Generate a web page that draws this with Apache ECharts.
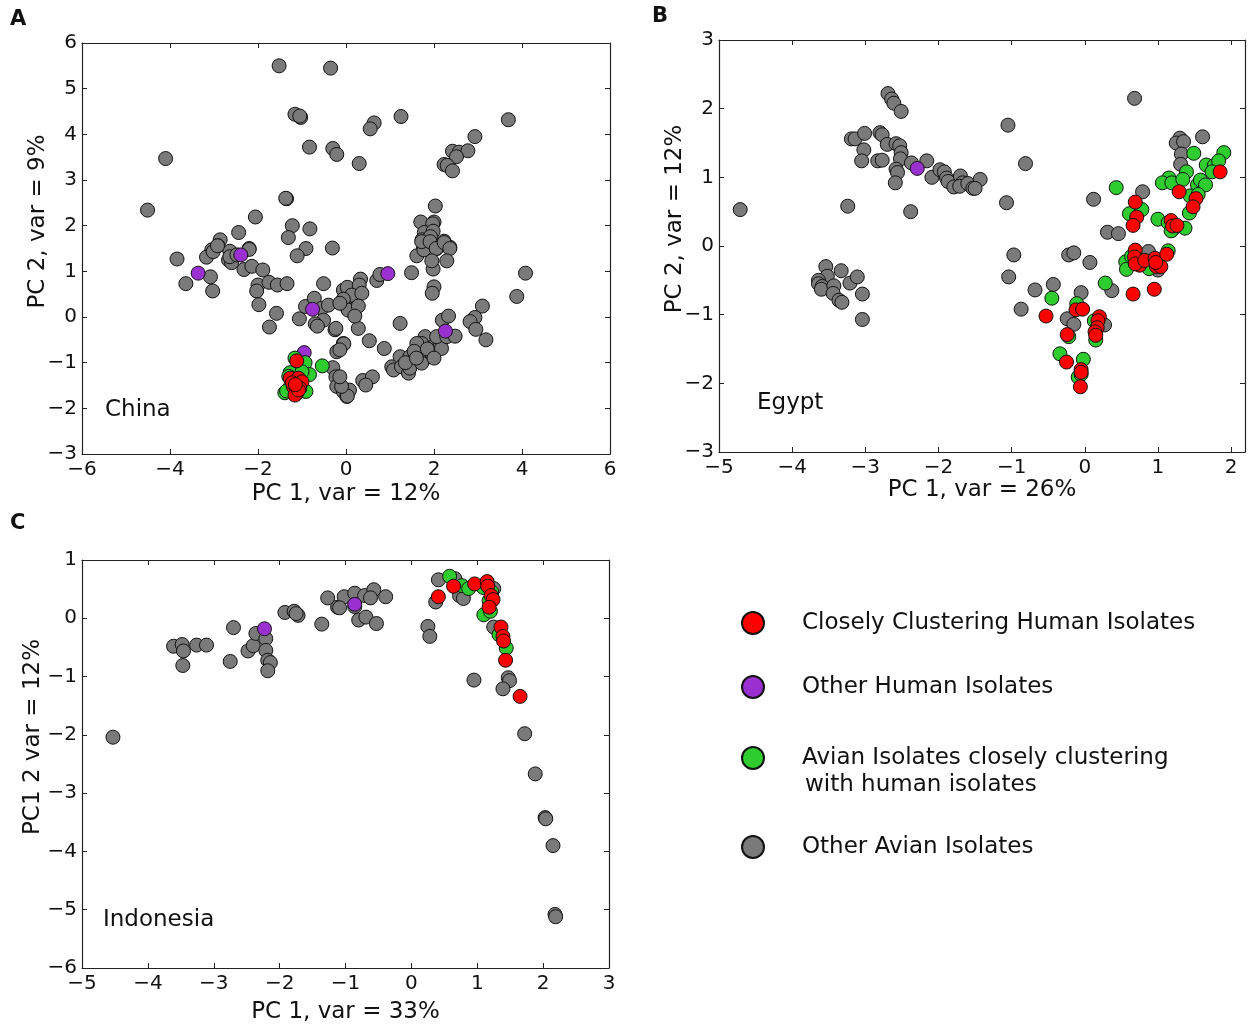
<!DOCTYPE html>
<html><head><meta charset="utf-8">
<script src="https://cdn.jsdelivr.net/npm/echarts@6/dist/echarts.min.js"></script>
<style>html,body{margin:0;padding:0;background:#fff}#c{width:1249px;height:1025px}</style>
</head><body><div id="c"></div>
<script>
// ---------- DATA ----------
const seriesNames = ['Other Avian Isolates', 'Other Human Isolates', 'Avian Isolates closely clustering with human isolates', 'Closely Clustering Human Isolates'];
const panelTitles = ['China', 'Egypt', 'Indonesia'];
const xAxisNames = ['PC 1, var = 12%', 'PC 1, var = 26%', 'PC 1, var = 33%'];
const yAxisNames = ['PC 2, var = 9%', 'PC 2, var = 12%', 'PC1 2 var = 12%'];

// Panel A – China
const chinaOtherAvian = [[-1.52,5.50],[-0.35,5.45],[-1.16,4.44],[-1.03,4.37],[-1.05,4.40],[-0.83,3.72],[-0.30,3.69],[-0.21,3.56],[-4.10,3.47],[-4.51,2.34],[-1.35,2.59],[-1.37,2.60],[-2.06,2.19],[-1.22,2.00],[-0.82,1.93],[-1.31,1.74],[-2.44,1.85],[-2.86,1.69],[-2.91,1.56],[-2.20,1.50],[-0.91,1.50],[-0.31,1.51],[-2.64,1.44],[-3.05,1.47],
[0.64,4.25],[0.55,4.12],[1.25,4.39],[0.30,3.36],[3.69,4.32],[2.93,3.95],[2.42,3.63],[2.57,3.61],[2.77,3.64],[2.51,3.51],[2.23,3.34],[2.30,3.32],[2.42,3.20],
[2.03,2.43],[1.70,2.08],[2.00,2.08],[1.97,2.04],[1.78,1.85],[1.98,1.88],[1.73,1.69],[1.92,1.76],[2.23,1.66],[1.76,1.50],[2.06,1.50],[2.36,1.53],
[-3.84,1.27],[-3.64,0.73],[-3.08,0.88],[-3.03,0.57],[-3.17,1.31],[-3.02,1.43],[-2.92,1.56],[-2.67,1.25],[-2.60,1.19],[-2.64,1.32],[-2.48,1.36],[-2.20,1.48],[-2.32,1.04],[-2.14,1.11],[-1.89,1.03],[-2.00,0.70],[-1.75,0.76],[-1.56,0.70],[-1.34,0.73],[-2.03,0.57],[-1.98,0.27],[-1.74,-0.22],[-1.58,0.08],[-1.11,1.34],[-0.51,0.73],[-1.06,-0.04],[-0.92,0.23],[-0.72,0.41],[-0.55,0.19],[-0.40,0.26],[-0.51,-0.07],[-0.70,-0.15],[-0.65,-0.20],[-0.25,-0.28],[-0.23,-0.25],[-0.06,0.37],[-0.06,0.59],[0.00,0.23],[-0.06,-0.58],[-0.21,-0.76],[-0.30,-1.11],[-0.23,-1.31],[-0.21,-1.52],[-0.06,-1.63],[0.02,-1.74],
[0.70,0.80],[0.77,0.93],[1.49,0.97],[1.98,1.05],[2.00,0.66],[1.96,0.52],[1.61,1.34],[1.77,1.47],[1.72,1.65],[1.91,1.65],[2.05,1.50],[2.23,1.63],[2.36,1.50],[2.29,1.23],[1.95,1.23],[4.08,0.96],[3.88,0.45],[3.10,0.24],[2.93,-0.01],[2.82,-0.10],[2.95,-0.27],[3.18,-0.50],[1.23,-0.14],[0.53,-0.52],[0.87,-0.69],[0.28,-0.25],
[0.33,0.83],[0.03,0.65],[0.30,0.70],[0.13,0.48],[0.36,0.52],[-0.06,0.39],[0.05,0.15],[0.28,0.24],[0.20,0.02],[-0.14,0.30],[-0.05,-0.59],[-0.14,-0.72],
[0.38,-1.39],[0.60,-1.31],[0.45,-1.49],[0.08,-1.60],[0.03,-1.73],[-0.10,-1.52],[-0.14,-1.31],
[1.04,-1.09],[1.08,-1.16],[1.23,-0.87],[1.26,-1.09],[1.42,-1.23],[1.45,-1.12],[1.45,-0.87],[1.64,-0.65],[1.72,-0.80],[1.76,-0.94],[1.72,-1.01],[1.80,-0.43],[1.72,-0.58],[1.61,-0.58],[1.95,-0.80],[1.98,-0.65],[2.14,-0.58],[2.17,-0.69],[2.06,-0.43],[2.29,-0.43],[2.48,-0.42],[2.19,-0.07],[2.33,0.02],[1.55,-0.75],[1.85,-0.70],[2.00,-0.90],[1.35,-1.00],[1.60,-0.90]];
const chinaOtherHuman = [[-3.36,0.96],[-2.39,1.36],[-0.76,0.17],[0.95,0.95],[2.26,-0.31],[-0.95,-0.78]];
const chinaAvianClose = [[-1.16,-0.90],[-0.93,-1.00],[-0.83,-1.26],[-1.27,-1.22],[-1.39,-1.66],[-0.91,-1.63],[-1.26,-1.52],[-0.54,-1.07],[-1.30,-1.30],[-1.00,-1.20],[-1.35,-1.62]];
const chinaHumanClose = [[-1.12,-0.96],[-1.27,-1.34],[-1.08,-1.34],[-1.00,-1.42],[-1.20,-1.52],[-1.05,-1.56],[-1.12,-1.67],[-1.16,-1.71],[-1.08,-1.60],[-1.22,-1.44],[-1.15,-1.48]];

// Panel B – Egypt
const egyptOtherAvian = [[-4.71,0.53],[-3.24,0.58],[-2.38,0.50],[-2.69,2.22],[-2.64,2.14],[-2.61,2.08],[-2.51,1.96],[-3.19,1.56],[-3.14,1.56],[-3.01,1.64],[-3.02,1.40],[-3.05,1.24],[-2.80,1.65],[-2.77,1.62],[-2.70,1.48],[-2.58,1.49],[-2.53,1.46],[-2.51,1.36],[-2.83,1.24],[-2.77,1.25],[-2.52,1.27],[-2.58,1.12],[-2.56,1.07],[-2.59,0.92],[-2.37,1.21],[-2.16,1.24],[-2.09,1.00],[-1.98,1.11],[-1.92,1.08],[-1.89,0.99],[-1.87,0.94],[-1.79,0.86],[-1.70,1.02],[-1.67,0.92],[-1.71,0.87],[-1.60,0.91],[-1.53,0.84],[-1.43,0.97],[-1.50,0.84],[-1.05,1.76],[-0.81,1.20],[-1.07,0.63],[0.68,2.15],[0.12,0.68],[0.31,0.20],[0.46,0.18],[0.79,0.79],[1.30,1.57],[1.25,1.50],[1.35,1.52],[1.61,1.59],[1.32,1.34],[1.31,1.19],
[-0.97,-0.13],[-1.04,-0.45],[-0.22,-0.13],[-0.15,-0.10],[0.07,-0.24],[-0.68,-0.64],[-0.43,-0.56],[-0.87,-0.92],[-0.05,-0.68],[0.37,-0.65],[-0.24,-1.06],[-0.15,-1.14],[0.27,-1.15],[0.87,-0.08],[1.00,-0.35],
[-3.54,-0.30],[-3.52,-0.44],[-3.64,-0.50],[-3.64,-0.55],[-3.59,-0.59],[-3.60,-0.63],[-3.33,-0.36],[-3.43,-0.58],[-3.44,-0.69],[-3.21,-0.54],[-3.11,-0.45],[-3.36,-0.79],[-3.32,-0.82],[-3.04,-0.70],[-3.04,-1.07]];
const egyptOtherHuman = [[-2.29,1.13]];
const egyptAvianClose = [[0.43,0.85],[1.49,1.35],[1.90,1.36],[1.66,1.18],[1.77,1.17],[1.83,1.24],[1.74,1.08],[1.39,1.08],[1.15,0.99],[1.06,0.92],[1.19,0.92],[1.34,0.97],[1.54,0.89],[1.58,0.96],[1.65,0.89],[1.44,0.73],[1.55,0.75],[1.43,0.48],[0.61,0.47],[0.78,0.53],[1.00,0.39],[1.14,0.34],[1.20,0.24],[1.37,0.26],[1.18,0.22],
[-0.45,-0.76],[-0.11,-0.84],[0.28,-0.54],[0.13,-1.09],[0.15,-1.37],[-0.22,-1.32],[-0.34,-1.57],[-0.02,-1.65],[-0.09,-1.91],[-0.05,-1.87],[0.56,-0.23],[0.57,-0.34],[0.64,-0.15],[0.88,-0.33],[1.14,-0.07]];
const egyptHumanClose = [[1.85,1.08],[1.29,0.79],[1.52,0.69],[1.48,0.57],[0.69,0.64],[0.71,0.42],[0.66,0.30],[1.18,0.37],[1.20,0.29],[1.26,0.30],
[-0.53,-1.02],[-0.12,-0.93],[-0.03,-0.92],[0.66,-0.70],[0.95,-0.63],[0.20,-1.03],[0.18,-1.09],[0.17,-1.19],[0.14,-1.25],[0.15,-1.30],[-0.24,-1.29],[-0.25,-1.69],[-0.05,-1.80],[-0.05,-1.84],[-0.06,-2.05],[0.69,-0.06],[0.68,-0.16],[0.75,-0.28],[0.69,-0.26],[0.82,-0.21],[0.96,-0.18],[0.98,-0.30],[1.04,-0.30],[1.12,-0.12],[0.97,-0.24]];

// Panel C – Indonesia
const indoOtherAvian = [[-4.53,-2.04],[-3.61,-0.48],[-3.48,-0.45],[-3.46,-0.56],[-3.47,-0.81],[-3.26,-0.46],[-3.11,-0.46],[-2.70,-0.16],[-2.75,-0.74],[-2.48,-0.56],[-2.40,-0.47],[-2.36,-0.26],[-2.21,-0.35],[-2.21,-0.55],[-2.18,-0.72],[-2.14,-0.76],[-2.18,-0.90],[-1.92,0.10],[-1.78,0.12],[-1.72,0.05],[-1.75,0.08],[-1.36,-0.10],[-1.27,0.35],[-1.12,0.19],[-1.02,0.37],[-0.86,0.43],[-0.86,0.20],[-0.71,0.39],[-0.57,0.49],[-0.62,0.35],[-0.39,0.37],[-0.80,-0.03],[-0.69,0.02],[-0.53,-0.09],[-1.09,0.18],[0.25,-0.14],[0.28,-0.31],[0.41,0.66],[0.37,0.28],[0.66,0.68],[0.73,0.39],[0.79,0.34],[1.25,0.51],[1.25,-0.15],[0.95,-1.06],[1.47,-1.02],[1.49,-1.07],[1.39,-1.21],[1.72,-1.98],[1.88,-2.67],[2.03,-3.42],[2.04,-3.44],[2.15,-3.90],[2.18,-5.08],[2.19,-5.12]];
const indoOtherHuman = [[-2.23,-0.18],[-0.86,0.24]];
const indoAvianClose = [[0.58,0.72],[0.77,0.56],[0.87,0.51],[1.09,0.53],[1.18,0.30],[1.10,0.06],[1.20,0.12],[1.33,-0.28],[1.44,-0.51],[1.22,0.45]];
const indoHumanClose = [[0.41,0.37],[0.64,0.55],[0.96,0.59],[1.15,0.63],[1.16,0.55],[1.21,0.39],[1.24,0.32],[1.18,0.19],[1.36,-0.15],[1.39,-0.31],[1.40,-0.39],[1.43,-0.72],[1.65,-1.34]];

// Axis ranges [min, max, interval]
const xRanges = [[-6, 6, 2], [-5, 2.19, 1], [-5, 3, 1]];
const yRanges = [[-3, 6, 1], [-3, 3, 1], [-6, 1, 1]];

// ---------- LAYOUT / STYLE ----------
const FONT = 'DejaVu Sans';
const colors = ['#7a7a7a', '#9b30d0', '#2fcc2f', '#ff0000'];
const panelData = [
  [chinaOtherAvian, chinaOtherHuman, chinaAvianClose, chinaHumanClose],
  [egyptOtherAvian, egyptOtherHuman, egyptAvianClose, egyptHumanClose],
  [indoOtherAvian, indoOtherHuman, indoAvianClose, indoHumanClose]
];
const grids = [
  {left: 82, top: 43, width: 528, height: 411},
  {left: 719, top: 40, width: 526, height: 412},
  {left: 82, top: 560, width: 527, height: 410}
];
const xNameGaps = [29, 27, 33];
const yNameGaps = [32, 32, 37];

const fmt = v => (Math.abs(v - Math.round(v)) < 1e-9) ? String(Math.round(v)).replace('-', '\u2212') : '';
const axisLineStyle = {color: '#222', width: 1.2};

const xAxis = [], yAxis = [], series = [];
grids.forEach((g, i) => {
  const [xmin, xmax, xint] = xRanges[i];
  const [ymin, ymax, yint] = yRanges[i];
  xAxis.push({
    type: 'value', gridIndex: i, min: xmin, max: xmax, interval: xint, position: 'bottom',
    name: xAxisNames[i], nameLocation: 'middle', nameGap: xNameGaps[i], nameMoveOverlap: false,
    nameTextStyle: {fontFamily: FONT, fontSize: 23, color: '#111'},
    axisLine: {show: true, onZero: false, lineStyle: axisLineStyle},
    axisTick: {show: true, inside: true, length: 5, lineStyle: {color: '#222'}},
    axisLabel: {formatter: fmt, fontFamily: FONT, fontSize: 20, color: '#111', margin: 6, showMinLabel: true, showMaxLabel: true},
    splitLine: {show: false}
  });
  xAxis.push({
    type: 'value', gridIndex: i, min: xmin, max: xmax, interval: xint, position: 'top',
    axisLine: {show: true, onZero: false, lineStyle: axisLineStyle},
    axisTick: {show: true, inside: true, length: 5, lineStyle: {color: '#222'}},
    axisLabel: {show: false}, splitLine: {show: false}
  });
  yAxis.push({
    type: 'value', gridIndex: i, min: ymin, max: ymax, interval: yint, position: 'left',
    name: yAxisNames[i], nameLocation: 'middle', nameGap: yNameGaps[i], nameRotate: 90, nameMoveOverlap: false,
    nameTextStyle: {fontFamily: FONT, fontSize: 23, color: '#111', padding: [0, 0, 0, 54]},
    axisLine: {show: true, onZero: false, lineStyle: axisLineStyle},
    axisTick: {show: true, inside: true, length: 5, lineStyle: {color: '#222'}},
    axisLabel: {formatter: fmt, fontFamily: FONT, fontSize: 20, color: '#111', margin: 5, showMinLabel: true, showMaxLabel: true},
    splitLine: {show: false}
  });
  yAxis.push({
    type: 'value', gridIndex: i, min: ymin, max: ymax, interval: yint, position: 'right',
    axisLine: {show: true, onZero: false, lineStyle: axisLineStyle},
    axisTick: {show: true, inside: true, length: 5, lineStyle: {color: '#222'}},
    axisLabel: {show: false}, splitLine: {show: false}
  });
  panelData[i].forEach((data, k) => {
    series.push({
      type: 'scatter', name: seriesNames[k], xAxisIndex: 2 * i, yAxisIndex: 2 * i,
      data: data, symbol: 'circle', symbolSize: 14,
      itemStyle: {color: colors[k], borderColor: '#111', borderWidth: 1, opacity: 1},
      emphasis: {disabled: true}, z: 2 + k
    });
  });
});

// legends: one component per entry (ordered as in the reference)
const legendOrder = [3, 1, 2, 0];
const legendCenters = [623, 687, 758, 847];
const legend = legendOrder.map((k, j) => ({
  data: [{name: seriesNames[k], icon: 'circle'}],
  orient: 'vertical', left: 741, top: legendCenters[j] - 12, padding: 0,
  itemWidth: 22, itemHeight: 22, selectedMode: false,
  formatter: n => n === seriesNames[2] ? 'Avian Isolates closely clustering' : n,
  textStyle: {fontFamily: FONT, fontSize: 23, color: '#111', lineHeight: 24, padding: [0, 0, 0, 33]}
}));

const txt = (l, t, s, size, bold) => ({type: 'text', left: l, top: t,
  style: {text: s, fontFamily: FONT, fontSize: size, fontWeight: bold ? 'bold' : 'normal', fill: '#111'}});
const graphic = [
  txt(10, 9, 'A', 21, true), txt(652, 6, 'B', 21, true), txt(10, 513, 'C', 21, true),
  txt(105, 399, panelTitles[0], 23), txt(757, 392, panelTitles[1], 23), txt(103, 909, panelTitles[2], 23),
  txt(805, 774, 'with human isolates', 23)
];

const chart = echarts.init(document.getElementById('c'), null, {renderer: 'canvas'});
chart.setOption({
  animation: false, backgroundColor: '#fff',
  grid: grids.map(g => Object.assign({containLabel: false}, g)),
  xAxis, yAxis, series, legend, graphic
});
</script></body></html>
